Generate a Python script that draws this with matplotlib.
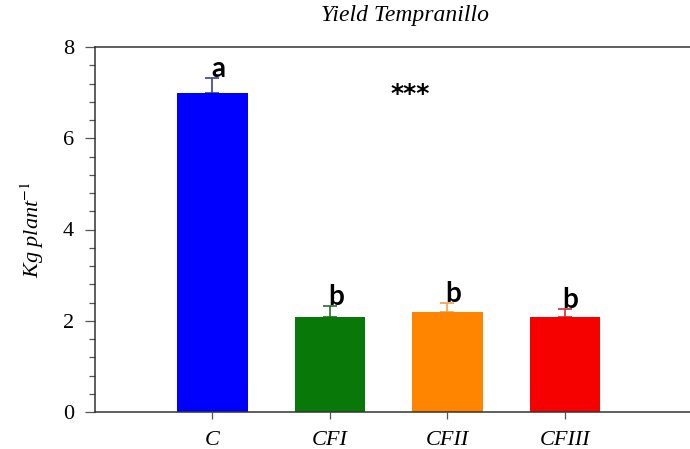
import matplotlib.pyplot as plt
from matplotlib.ticker import MultipleLocator

# yield per treatment (kg/plant) with upper error
treatments = ["C", "CFI", "CFII", "CFIII"]
yield_mean = [7.0, 2.08, 2.19, 2.08]
yield_err = [0.32, 0.24, 0.2, 0.18]
letters = ["a", "b", "b", "b"]
bar_colors = ["#0000ff", "#087808", "#ff8400", "#f70000"]
err_colors = ["#3a3f9a", "#2e6b2e", "#f0a050", "#c83030"]

plt.rcParams['font.family'] = ['Liberation Serif', 'DejaVu Serif']
plt.rcParams['mathtext.fontset'] = 'stix'

fig = plt.figure(figsize=(6.9, 4.49), dpi=100)
ax = fig.add_axes([95 / 690, 37 / 449, 599 / 690, 365 / 449])

x = list(range(len(treatments)))
ax.bar(x, yield_mean, width=0.6, color=bar_colors, zorder=2)
for xi, m, e, c in zip(x, yield_mean, yield_err, err_colors):
    ax.errorbar(xi, m, yerr=[[0], [e]], fmt='none', ecolor=c, elinewidth=1.2,
                capsize=5, capthick=1.2, zorder=1)
    ax.text(xi + 0.05, m + e - 0.08, letters[xi], fontsize=20, fontweight='bold',
            family=['Lato', 'DejaVu Sans'], ha='center', va='bottom', zorder=3)

ax.text(1.68, 6.98, "***", fontsize=18, fontweight='bold',
        family='DejaVu Sans', ha='center', va='center')

ax.set_xlim(-1, 4.1)
ax.set_ylim(0, 8)
ax.set_xticks(x)
ax.set_xticklabels(treatments, fontsize=16, style='italic')
ax.yaxis.set_major_locator(MultipleLocator(2))
ax.yaxis.set_minor_locator(MultipleLocator(0.4))
ax.tick_params(axis='y', labelsize=16, direction='out', length=7, width=0.9,
               color='#555555', pad=8)
ax.tick_params(axis='y', which='minor', length=4, width=0.9, color='#555555')
ax.tick_params(axis='x', direction='out', length=5, width=0.9, color='#555555', pad=9)
ax.spines['right'].set_visible(False)
for s in ['top', 'bottom', 'left']:
    ax.spines[s].set_color('#333333')
    ax.spines[s].set_linewidth(1.1)

ax.set_ylabel("Kg plant$^{\\mathit{-1}}$", fontsize=16, style='italic', labelpad=12)
fig.text(405 / 690, 1 - 16 / 449, "Yield Tempranillo", fontsize=17, style='italic',
         ha='center', va='center')

fig.savefig("out.png", dpi=100)
